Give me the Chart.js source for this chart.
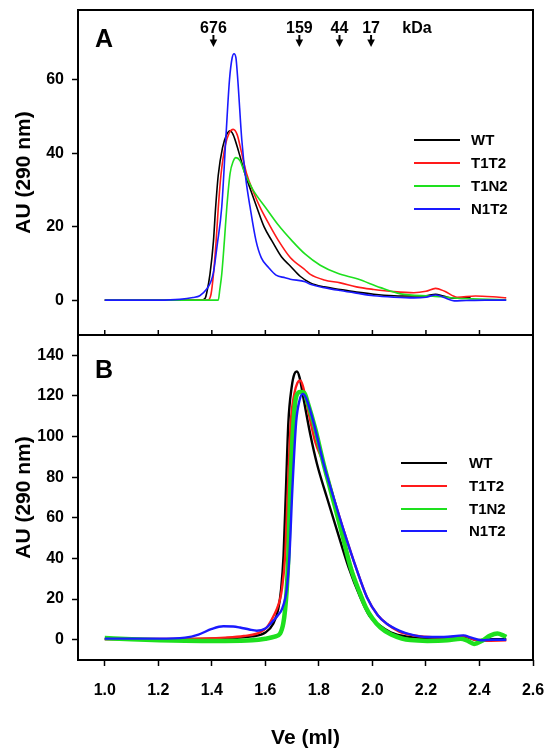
<!DOCTYPE html>
<html>
<head>
<meta charset="utf-8">
<script src="https://cdn.jsdelivr.net/npm/chart.js@4.4.0/dist/chart.umd.min.js"></script>
<style>
  html, body { margin: 0; padding: 0; background: #fff; }
</style>
</head>
<body>
<canvas id="chart" width="551" height="751"></canvas>
<script>
// series names and line colours
const seriesNames = ["WT", "T1T2", "T1N2", "N1T2"];
const seriesColors = ["#000000", "#ff1a1a", "#1ee01e", "#1a1aff"];

// axis ticks
const xTicks = [1.0, 1.2, 1.4, 1.6, 1.8, 2.0, 2.2, 2.4, 2.6];
const yTicksA = [0, 20, 40, 60];
const yTicksB = [0, 20, 40, 60, 80, 100, 120, 140];

// molecular weight markers (kDa) on panel A
const markerLabels = ["676", "159", "44", "17"];
const markerVe = [1.406, 1.727, 1.877, 1.995];

// panel A: [Ve (ml), AU]
const aWT = [[1.00,0],[1.20,0],[1.36,0],[1.375,0.5],[1.381,2],[1.393,7],[1.406,16],[1.414,25],[1.424,34],[1.44,41.5],[1.455,45],[1.468,46.1],[1.48,45],[1.50,40.5],[1.524,34.4],[1.545,30],[1.568,25.3],[1.595,20],[1.624,16.2],[1.66,11.8],[1.693,9.3],[1.73,6.5],[1.768,4.7],[1.82,3.6],[1.88,2.9],[1.95,2.1],[2.005,1.6],[2.08,1.2],[2.155,1.1],[2.20,1.2],[2.236,1.6],[2.265,1.1],[2.305,0.5],[2.367,0.7]];
const aT1T2 = [[1.00,0],[1.20,0],[1.385,0],[1.397,1.6],[1.406,7],[1.416,16],[1.424,25],[1.434,34],[1.45,42],[1.465,45.5],[1.48,46.5],[1.495,45],[1.51,40.5],[1.53,34.4],[1.555,29.5],[1.58,25.3],[1.615,20.5],[1.649,16.2],[1.693,11.6],[1.749,8.2],[1.768,7],[1.82,5.5],[1.88,4.7],[1.94,3.6],[2.005,2.9],[2.08,2.3],[2.155,2.0],[2.20,2.4],[2.236,3.2],[2.27,2.4],[2.317,0.8],[2.385,1.1],[2.45,0.9],[2.50,0.6]];
const aT1N2 = [[1.00,0],[1.20,0],[1.424,0],[1.43,3],[1.437,7],[1.447,16.2],[1.456,25.3],[1.468,34.4],[1.48,37.8],[1.49,38.8],[1.505,38],[1.524,34.4],[1.555,29.9],[1.60,25.3],[1.65,20.3],[1.699,16.2],[1.749,12.5],[1.805,9.5],[1.87,7.3],[1.943,5.8],[2.03,3.4],[2.105,1.7],[2.217,1.1],[2.26,0.9],[2.317,0.5],[2.40,0.3],[2.50,0.1]];
const aN1T2 = [[1.00,0],[1.20,0],[1.28,0.2],[1.33,0.7],[1.355,1.2],[1.381,3.0],[1.395,4.8],[1.406,7.5],[1.42,15],[1.437,25.3],[1.452,43.6],[1.466,60],[1.476,66],[1.483,67.1],[1.49,66],[1.497,60],[1.512,43.6],[1.527,33],[1.543,25.3],[1.565,16.2],[1.585,11.5],[1.612,8.9],[1.64,6.8],[1.674,6.1],[1.693,5.7],[1.749,5.0],[1.768,4.3],[1.82,3.4],[1.88,2.6],[1.94,1.9],[2.005,1.2],[2.08,0.8],[2.155,0.6],[2.20,0.8],[2.236,1.4],[2.265,0.8],[2.305,-0.2],[2.35,-0.1],[2.42,0],[2.50,0]];

// panel B: [Ve (ml), AU]
const bWT = [[1.00,0.3],[1.30,0.3],[1.45,0.6],[1.55,1.6],[1.60,3.5],[1.63,8],[1.648,15],[1.659,25],[1.668,41.4],[1.677,74.2],[1.686,107],[1.698,124],[1.709,131],[1.718,132],[1.728,129],[1.745,117],[1.768,101],[1.793,86.5],[1.83,70],[1.868,53.7],[1.91,36],[1.955,20.8],[1.99,11.5],[2.02,7.7],[2.07,3.5],[2.13,1.5],[2.20,0.9],[2.28,0.9],[2.34,1.7],[2.39,-0.2],[2.45,0.2],[2.50,0.2]];
const bT1T2 = [[1.00,0.3],[1.30,0.4],[1.45,1.0],[1.52,1.8],[1.58,3.6],[1.605,6],[1.618,8.5],[1.632,12],[1.643,15.1],[1.655,20],[1.662,25],[1.674,41.4],[1.684,74.2],[1.695,107],[1.708,121],[1.72,126.5],[1.73,127.6],[1.74,125],[1.758,114],[1.785,98],[1.818,86.5],[1.855,70],[1.893,53.7],[1.94,35],[1.98,20.8],[2.02,12],[2.055,7.7],[2.10,4],[2.15,2.2],[2.21,1.3],[2.28,1.1],[2.34,1.9],[2.38,0.1],[2.42,-0.5],[2.50,-0.3]];
const bT1N2 = [[1.00,0.8],[1.10,0.2],[1.30,-0.5],[1.45,-0.6],[1.55,-0.3],[1.60,0.5],[1.635,1.5],[1.655,3],[1.667,8],[1.674,15],[1.68,25],[1.686,41.4],[1.693,74.2],[1.705,107],[1.716,120],[1.73,122],[1.745,121.5],[1.76,116],[1.786,104],[1.815,88],[1.843,74],[1.885,53],[1.92,35],[1.95,24],[1.975,16],[2.00,10.5],[2.03,6],[2.07,2.5],[2.11,0.6],[2.142,-0.2],[2.205,-0.6],[2.28,-0.3],[2.33,0.5],[2.355,-0.5],[2.38,-2.1],[2.41,-0.5],[2.44,2],[2.467,3],[2.49,2],[2.50,1.3]];
const bN1T2 = [[1.00,0.5],[1.20,0.5],[1.30,1.0],[1.35,2.5],[1.40,5.3],[1.443,6.6],[1.48,6.5],[1.505,6],[1.54,5],[1.568,4.4],[1.60,5.5],[1.63,9.4],[1.65,12.5],[1.662,15.1],[1.68,25],[1.69,41.4],[1.701,74.2],[1.715,107],[1.728,118],[1.74,121],[1.752,119],[1.78,107],[1.818,86.5],[1.855,70],[1.893,53.7],[1.94,35],[1.98,20.8],[2.02,12],[2.055,7.7],[2.10,4.5],[2.142,2.6],[2.205,1.3],[2.267,1.3],[2.34,2.1],[2.37,1.0],[2.405,-0.3],[2.45,0],[2.50,0]];

const panelA = [aWT, aT1T2, aT1N2, aN1T2];
const panelB = [bWT, bT1T2, bT1N2, bN1T2];

const FONT = '"Liberation Sans", Arial, sans-serif';
Chart.defaults.font.family = FONT;
Chart.defaults.color = "#000";

function makeSets(panel, axisId, widths) {
    return panel.map((pts, i) => ({
        label: seriesNames[i],
        data: pts.map((p) => ({ x: p[0], y: p[1] })),
        yAxisID: axisId,
        borderColor: seriesColors[i],
        borderWidth: widths[i],
        pointRadius: 0,
        fill: false,
        cubicInterpolationMode: "monotone",
        order: 4 - i, // N1T2 on top
    }));
}

const datasets = [
    ...makeSets(panelA, "yA", [1.6, 1.6, 1.6, 1.6]),
    ...makeSets(panelB, "yB", [2.4, 2.4, 4.5, 2.4]),
];

const tickGrid = {
    display: true,
    drawOnChartArea: false,
    drawTicks: true,
    tickLength: 6,
    tickColor: "#000",
    tickWidth: 1.5,
};

// fixed axis sizes, no extra label padding
function fixSize(s, w, h) {
    if (w !== null) s.width = w;
    if (h !== null) s.height = h;
    s.paddingTop = 0;
    s.paddingBottom = 0;
    s.paddingLeft = 0;
    s.paddingRight = 0;
}

function yAxis(min, max, ticks) {
    return {
        type: "linear",
        position: "left",
        stack: "panels",
        stackWeight: 1,
        min: min,
        max: max,
        afterBuildTicks: (s) => { s.ticks = ticks.map((v) => ({ value: v })); },
        afterFit: (s) => fixSize(s, 78, null),
        ticks: { font: { size: 16, weight: "bold" }, color: "#000", padding: 8 },
        grid: tickGrid,
        border: { display: false },
        title: {
            display: true,
            text: "AU (290 nm)",
            font: { size: 21, weight: "bold" },
            color: "#000",
            padding: { top: 12, bottom: 0 },
        },
    };
}

// frames, panel letters, kDa markers, legends
const decor = {
    id: "decor",
    afterDraw(chart) {
        const ctx = chart.ctx;
        const area = chart.chartArea;
        const xs = chart.scales.x;
        const panels = [chart.scales.yA, chart.scales.yB];
        ctx.save();
        ctx.strokeStyle = "#000";
        ctx.fillStyle = "#000";

        // boundary ticks pointing up into panel A
        ctx.lineWidth = 1.5;
        const yb = chart.scales.yB.top;
        xTicks.forEach((v) => {
            const x = xs.getPixelForValue(v);
            ctx.beginPath();
            ctx.moveTo(x, yb);
            ctx.lineTo(x, yb - 5);
            ctx.stroke();
        });

        ctx.lineWidth = 2;
        panels.forEach((s) => {
            ctx.strokeRect(area.left, s.top, area.right - area.left, s.bottom - s.top);
        });

        // panel letters
        ctx.font = "bold 25px " + FONT;
        ctx.textAlign = "left";
        ctx.textBaseline = "alphabetic";
        ctx.fillText("A", 95, 46.5);
        ctx.fillText("B", 95, 378);

        // kDa markers
        ctx.font = "bold 16px " + FONT;
        ctx.textAlign = "center";
        markerLabels.forEach((lab, i) => {
            const x = xs.getPixelForValue(markerVe[i]);
            ctx.fillText(lab, x, 32.5);
            ctx.lineWidth = 2;
            ctx.beginPath();
            ctx.moveTo(x, 35);
            ctx.lineTo(x, 42);
            ctx.stroke();
            ctx.beginPath();
            ctx.moveTo(x - 3.8, 39.5);
            ctx.lineTo(x + 3.8, 39.5);
            ctx.lineTo(x, 47);
            ctx.closePath();
            ctx.fill();
        });
        ctx.fillText("kDa", 417, 32.5);

        // legends
        const legends = [
            { x0: 414, x1: 460, tx: 471, rows: [140, 163, 186, 209] },
            { x0: 401, x1: 447, tx: 469, rows: [463, 486, 509, 531] },
        ];
        ctx.font = "bold 15px " + FONT;
        ctx.textAlign = "left";
        ctx.textBaseline = "middle";
        legends.forEach((lg) => {
            seriesNames.forEach((name, i) => {
                const y = lg.rows[i];
                ctx.strokeStyle = seriesColors[i];
                ctx.lineWidth = 2;
                ctx.beginPath();
                ctx.moveTo(lg.x0, y);
                ctx.lineTo(lg.x1, y);
                ctx.stroke();
                ctx.fillStyle = "#000";
                ctx.fillText(name, lg.tx, y + 1);
            });
        });
        ctx.restore();
    },
};

new Chart(document.getElementById("chart"), {
    type: "line",
    data: { datasets: datasets },
    options: {
        responsive: false,
        animation: false,
        layout: { padding: { top: 10, right: 18, left: 0, bottom: 0 } },
        plugins: { legend: { display: false }, tooltip: { enabled: false } },
        scales: {
            x: {
                type: "linear",
                min: 0.9,
                max: 2.6,
                afterBuildTicks: (s) => { s.ticks = xTicks.map((v) => ({ value: v })); },
                afterFit: (s) => fixSize(s, null, 91),
                ticks: {
                    font: { size: 16, weight: "bold" },
                    color: "#000",
                    padding: 15,
                    maxRotation: 0,
                    callback: (v) => Number(v).toFixed(1),
                },
                grid: tickGrid,
                border: { display: false },
                title: {
                    display: true,
                    text: "Ve (ml)",
                    font: { size: 21, weight: "bold" },
                    color: "#000",
                    padding: { top: 0, bottom: 0 },
                },
            },
            yB: yAxis(-10, 150, yTicksB),
            yA: yAxis(-9.5, 79, yTicksA),
        },
    },
    plugins: [decor],
});
</script>
</body>
</html>
